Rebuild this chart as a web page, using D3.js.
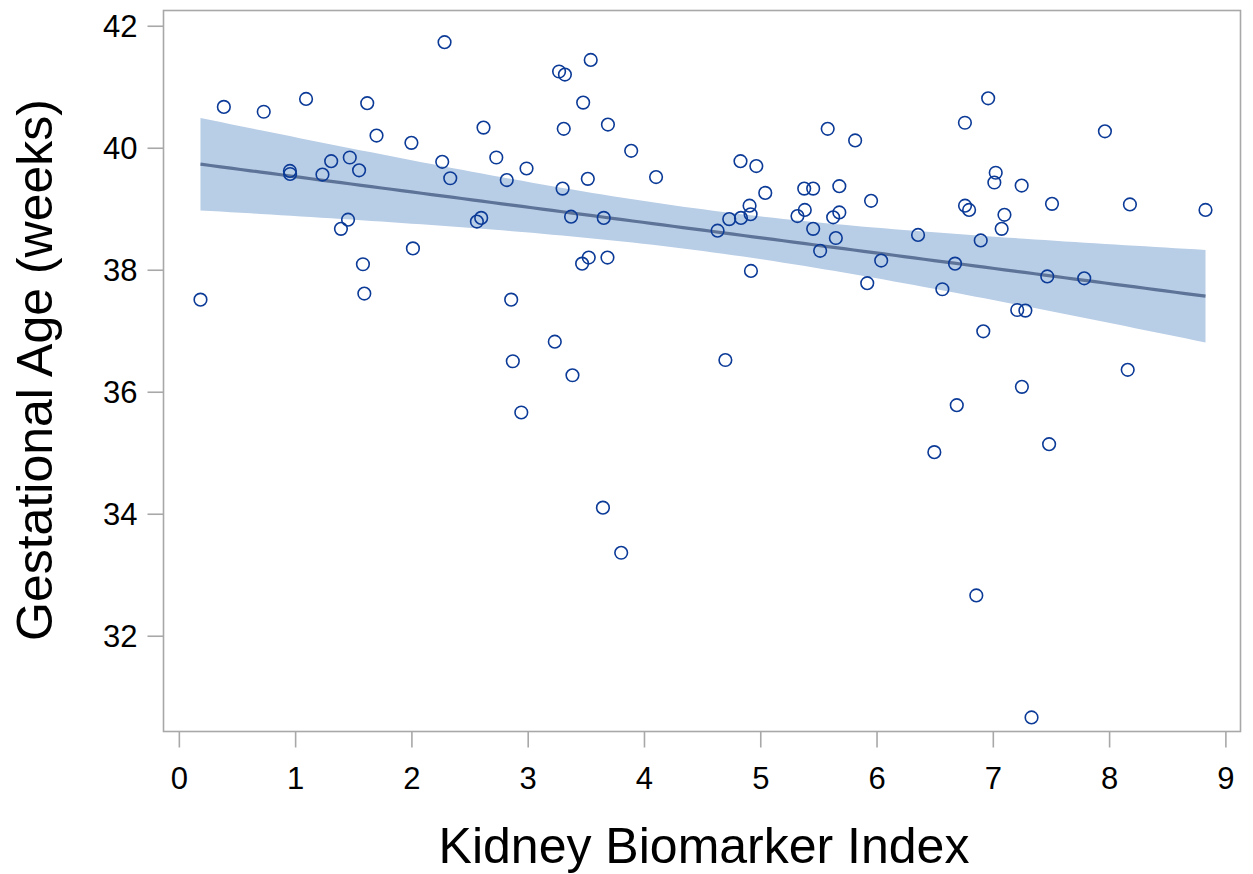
<!DOCTYPE html>
<html>
<head>
<meta charset="utf-8">
<script src="https://cdn.jsdelivr.net/npm/d3@7"></script>
<style>
  html, body { margin: 0; padding: 0; background: #fff; }
  svg { display: block; }
  text { font-family: "Liberation Sans", Arial, sans-serif; }
</style>
</head>
<body>
<svg id="chart" width="1253" height="874"></svg>
<script>
const biomarker = [0.186,0.387,0.73,0.955,0.957,1.094,1.235,1.31,1.394,1.455,1.47,1.55,1.583,1.595,1.62,1.70,2.0,2.013,2.265,2.285,2.334,2.563,2.60,2.62,2.73,2.82,2.858,2.872,2.945,2.99,3.233,3.27,3.30,3.31,3.32,3.373,3.385,3.468,3.477,3.517,3.525,3.542,3.647,3.654,3.686,3.69,3.804,3.89,4.104,4.633,4.70,4.733,4.83,4.834,4.908,4.917,4.92,4.966,5.043,5.32,5.378,5.383,5.455,5.455,5.515,5.58,5.627,5.65,5.68,5.68,5.816,5.92,5.953,6.04,6.357,6.497,6.566,6.675,6.69,6.76,6.761,6.796,6.858,6.896,6.918,6.96,7.013,7.025,7.076,7.10,7.21,7.248,7.25,7.28,7.333,7.468,7.484,7.509,7.786,7.964,8.16,8.179,8.829];
const gestAge = [37.51,40.67,40.59,39.62,39.57,40.80,39.56,39.78,38.67,38.82,39.84,39.63,38.09,37.61,40.73,40.20,40.08,38.35,39.77,41.73,39.50,38.79,38.85,40.33,39.84,39.47,37.51,36.50,35.66,39.66,36.82,41.25,39.33,40.31,41.20,38.87,36.27,38.10,40.74,39.49,38.20,41.44,34.10,38.85,38.20,40.38,33.36,39.95,39.52,38.64,36.52,38.83,39.78,38.85,39.05,38.91,37.98,39.70,39.26,38.88,39.33,38.98,39.33,38.67,38.31,40.31,38.86,38.52,39.37,38.94,40.12,37.78,39.13,38.15,38.57,35.01,37.68,38.10,35.78,40.41,39.05,38.98,32.66,38.48,36.99,40.81,39.43,39.59,38.67,38.90,37.34,39.38,36.08,37.33,30.66,37.89,35.14,39.08,37.86,40.27,36.36,39.07,38.98];
const xTicks = [0,1,2,3,4,5,6,7,8,9];
const yTicks = [32,34,36,38,40,42];
const xTitle = "Kidney Biomarker Index";
const yTitle = "Gestational Age (weeks)";

const svg = d3.select("#chart");
const L = 163.5, R = 1240.5, T = 10.5, B = 731.5;
const x = d3.scaleLinear().domain([-0.132, 9.13]).range([L, R]);
const y = d3.scaleLinear().domain([30.43, 42.25]).range([B, T]);

// linear regression with 95% confidence band
const n = biomarker.length;
const mx = d3.mean(biomarker), my = d3.mean(gestAge);
let sxx = 0, sxy = 0;
for (let i = 0; i < n; i++) { sxx += (biomarker[i]-mx)**2; sxy += (biomarker[i]-mx)*(gestAge[i]-my); }
const slope = sxy / sxx, icpt = my - slope * mx;
let sse = 0;
for (let i = 0; i < n; i++) sse += (gestAge[i] - (icpt + slope*biomarker[i]))**2;
const s = Math.sqrt(sse / (n - 2));
const tval = 1.984;
const [xmin, xmax] = d3.extent(biomarker);
const grid = d3.range(0, 101).map(k => xmin + (xmax - xmin) * k / 100);
const band = grid.map(v => {
  const fit = icpt + slope * v;
  const se = s * Math.sqrt(1/n + (v-mx)**2 / sxx);
  return {v, fit, lo: fit - tval*se, hi: fit + tval*se};
});

svg.append("path")
  .datum(band)
  .attr("fill", "#b8cde6")
  .attr("d", d3.area().x(d => x(d.v)).y0(d => y(d.lo)).y1(d => y(d.hi)));

svg.append("path")
  .datum(band)
  .attr("fill", "none")
  .attr("stroke", "#5d7397")
  .attr("stroke-width", 3.2)
  .attr("d", d3.line().x(d => x(d.v)).y(d => y(d.fit)));

// points
svg.append("g").selectAll("circle")
  .data(biomarker.map((v, i) => [v, gestAge[i]]))
  .join("circle")
  .attr("cx", d => x(d[0]))
  .attr("cy", d => y(d[1]))
  .attr("r", 6.3)
  .attr("fill", "none")
  .attr("stroke", "#0b3a97")
  .attr("stroke-width", 1.6);

// frame
svg.append("rect")
  .attr("x", L).attr("y", T).attr("width", R - L).attr("height", B - T)
  .attr("fill", "none").attr("stroke", "#a8a8a8").attr("stroke-width", 1.6);

// axes
const xAxis = svg.append("g").attr("transform", `translate(0,${B})`)
  .call(d3.axisBottom(x).tickValues(xTicks).tickSize(16).tickPadding(10).tickFormat(d3.format("d")));
const yAxis = svg.append("g").attr("transform", `translate(${L},0)`)
  .call(d3.axisLeft(y).tickValues(yTicks).tickSize(16).tickPadding(10).tickFormat(d3.format("d")));
[xAxis, yAxis].forEach(g => {
  g.select(".domain").remove();
  g.selectAll(".tick line").attr("stroke", "#a8a8a8").attr("stroke-width", 1.6);
  g.selectAll(".tick text").attr("fill", "#000").style("font-size", "31px")
    .style("font-family", "'Liberation Sans', Arial, sans-serif");
});
xAxis.selectAll(".tick text").attr("dy", null).attr("y", null)
  .attr("dominant-baseline", "alphabetic").attr("transform", "translate(0,57)");
yAxis.selectAll(".tick text").attr("dy", "0.36em");

svg.append("text")
  .attr("x", 704).attr("y", 863)
  .attr("text-anchor", "middle")
  .style("font-size", "50px").attr("fill", "#000")
  .text(xTitle);

svg.append("text")
  .attr("transform", `translate(52,370) rotate(-90)`)
  .attr("text-anchor", "middle")
  .style("font-size", "50px").attr("fill", "#000")
  .text(yTitle);
</script>
</body>
</html>
